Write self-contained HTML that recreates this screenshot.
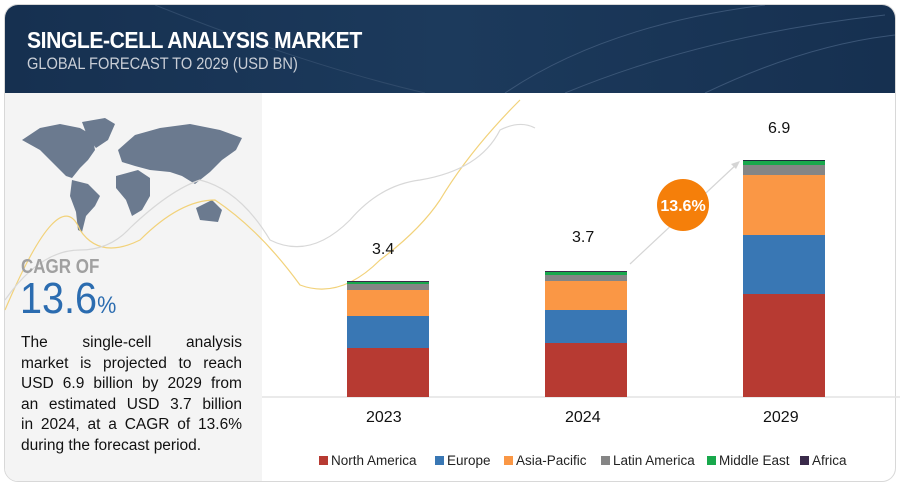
<!DOCTYPE html>
<html><head><meta charset="utf-8"><style>
body{margin:0;width:900px;height:486px;background:#fff;position:relative;overflow:hidden;font-family:"Liberation Sans",sans-serif}
.frame{position:absolute;left:4px;top:4px;width:890px;height:476px;border:1px solid #d8d8d8;border-radius:14px;overflow:hidden}
.hdr{position:absolute;left:0;top:0;width:890px;height:88px;background:linear-gradient(90deg,#163050 0%,#1c3a5c 50%,#163050 100%)}
.t1{position:absolute;left:22px;top:22px;color:#fff;font-weight:bold;font-size:23px;letter-spacing:-0.5px;transform:scaleX(0.92);transform-origin:left}
.t2{position:absolute;left:22px;top:49px;color:#c9ced6;font-size:17px;transform:scaleX(0.86);transform-origin:left}
.left{position:absolute;left:0;top:88px;width:257px;height:390px;background:#f4f4f4}
.cagr{position:absolute;left:21px;top:256px;color:#a0a0a0;font-weight:bold;font-size:20px;transform:scaleX(0.85);transform-origin:left}
.big{position:absolute;left:20px;top:274px;color:#2b6cb0;font-size:44px;transform:scaleX(0.9);transform-origin:left}
.big span{font-size:24px}
.desc{position:absolute;left:21px;top:333px;width:221px;font-size:15.5px;line-height:20.5px;color:#111}
.desc div{text-align:justify;text-align-last:justify;white-space:nowrap;display:flex;justify-content:space-between}
.lbl{position:absolute;font-size:16px;color:#111}
.leg{position:absolute;top:453px;font-size:13.5px;color:#222;display:flex;align-items:center}
.leg i{display:inline-block;width:9px;height:9px;margin-right:3px}
</style></head><body>
<div class="frame">
<div class="hdr">
<svg width="890" height="88" style="position:absolute;left:0;top:0">
<path d="M500 88 Q600 20 760 0" stroke="#3a5576" fill="none"/>
<path d="M560 88 Q700 30 880 10" stroke="#3a5576" fill="none"/>
<path d="M700 88 Q800 40 890 30" stroke="#3a5576" fill="none"/>
<path d="M150 0 Q300 60 420 88" stroke="#2f4a6a" fill="none"/>
</svg>
<div class="t1">SINGLE-CELL ANALYSIS MARKET</div>
<div class="t2">GLOBAL FORECAST TO 2029 (USD BN)</div>
</div>
<div class="left"></div>
</div>
<svg width="900" height="486" style="position:absolute;left:0;top:0">
<g fill="#6b7a8f">
<path d="M22 140 L40 128 L60 124 L80 128 L92 135 L95 150 L88 160 L80 168 L72 178 L66 176 L58 168 L48 158 L40 150 Z"/>
<path d="M82 122 L105 118 L115 124 L108 140 L96 148 L88 138 Z"/>
<path d="M72 180 L88 184 L100 196 L95 206 L86 216 L82 232 L78 230 L76 212 L70 196 Z"/>
<path d="M116 176 L138 170 L150 178 L150 196 L142 210 L132 216 L126 200 L116 188 Z"/>
<path d="M118 150 L135 135 L160 128 L190 124 L220 130 L242 138 L236 150 L222 160 L210 172 L195 184 L182 176 L170 172 L150 170 L135 166 L122 162 Z"/>
<path d="M196 208 L212 200 L222 210 L218 222 L200 220 Z"/>
</g>
<path d="M5 310 Q60 180 80 230 Q100 260 140 240 Q180 200 215 200 Q260 230 300 285 Q340 300 380 260 Q420 230 440 200 Q470 150 520 100" stroke="#f2d27a" fill="none" stroke-width="1.2"/>
<path d="M5 300 Q40 250 80 250 Q110 250 130 228 Q170 190 200 180 Q240 190 270 240 Q310 260 350 220 Q380 185 420 180 Q480 170 500 130 Q520 120 535 128" stroke="#d8d8d8" fill="none" stroke-width="1.2"/>
<line x1="262" y1="397" x2="900" y2="397" stroke="#e4e4e4" stroke-width="1.5"/>
<g>
<rect x="347" y="348" width="82" height="49" fill="#b73a32"/>
<rect x="347" y="316" width="82" height="32" fill="#3977b4"/>
<rect x="347" y="290" width="82" height="26" fill="#fa9745"/>
<rect x="347" y="284" width="82" height="6" fill="#858585"/>
<rect x="347" y="282" width="82" height="2" fill="#18a84c"/>
<rect x="347" y="281" width="82" height="1" fill="#3a2a4a"/>
<rect x="545" y="343" width="82" height="54" fill="#b73a32"/>
<rect x="545" y="310" width="82" height="33" fill="#3977b4"/>
<rect x="545" y="281" width="82" height="29" fill="#fa9745"/>
<rect x="545" y="275" width="82" height="6" fill="#858585"/>
<rect x="545" y="272" width="82" height="3" fill="#18a84c"/>
<rect x="545" y="271" width="82" height="1" fill="#3a2a4a"/>
<rect x="743" y="294" width="82" height="103" fill="#b73a32"/>
<rect x="743" y="235" width="82" height="59" fill="#3977b4"/>
<rect x="743" y="175" width="82" height="60" fill="#fa9745"/>
<rect x="743" y="165" width="82" height="10" fill="#858585"/>
<rect x="743" y="161" width="82" height="4" fill="#18a84c"/>
<rect x="743" y="160" width="82" height="1" fill="#1e2a3a"/>
</g>
<line x1="630" y1="264" x2="738" y2="163" stroke="#d5d5d5" stroke-width="1.2"/>
<polygon points="740,161 731,164 736,169" fill="#d5d5d5"/>
<circle cx="683" cy="205" r="26" fill="#f57f0a"/>
<text x="683" y="211" fill="#fff" font-size="16" font-weight="bold" text-anchor="middle" font-family="Liberation Sans">13.6%</text>
</svg>
<div class="cagr">CAGR OF</div>
<div class="big">13.6<span>%</span></div>
<div class="desc">
<div><span>The</span><span>single-cell</span><span>analysis</span></div>
<div><span>market</span><span>is</span><span>projected</span><span>to</span><span>reach</span></div>
<div><span>USD</span><span>6.9</span><span>billion</span><span>by</span><span>2029</span><span>from</span></div>
<div><span>an</span><span>estimated</span><span>USD</span><span>3.7</span><span>billion</span></div>
<div><span>in</span><span>2024,</span><span>at</span><span>a</span><span>CAGR</span><span>of</span><span>13.6%</span></div>
<div style="justify-content:flex-start">during the forecast period.</div>
</div>
<div class="lbl" style="left:372px;top:241px">3.4</div>
<div class="lbl" style="left:572px;top:229px">3.7</div>
<div class="lbl" style="left:768px;top:120px">6.9</div>
<div class="lbl" style="left:366px;top:409px">2023</div>
<div class="lbl" style="left:565px;top:409px">2024</div>
<div class="lbl" style="left:763px;top:409px">2029</div>
<div class="leg" style="left:319px"><i style="background:#b73a32"></i>North America</div>
<div class="leg" style="left:435px"><i style="background:#3977b4"></i>Europe</div>
<div class="leg" style="left:504px"><i style="background:#fa9745"></i>Asia-Pacific</div>
<div class="leg" style="left:601px"><i style="background:#858585"></i>Latin America</div>
<div class="leg" style="left:707px"><i style="background:#18a84c"></i>Middle East</div>
<div class="leg" style="left:800px"><i style="background:#3a2a4a"></i>Africa</div>
</body></html>
